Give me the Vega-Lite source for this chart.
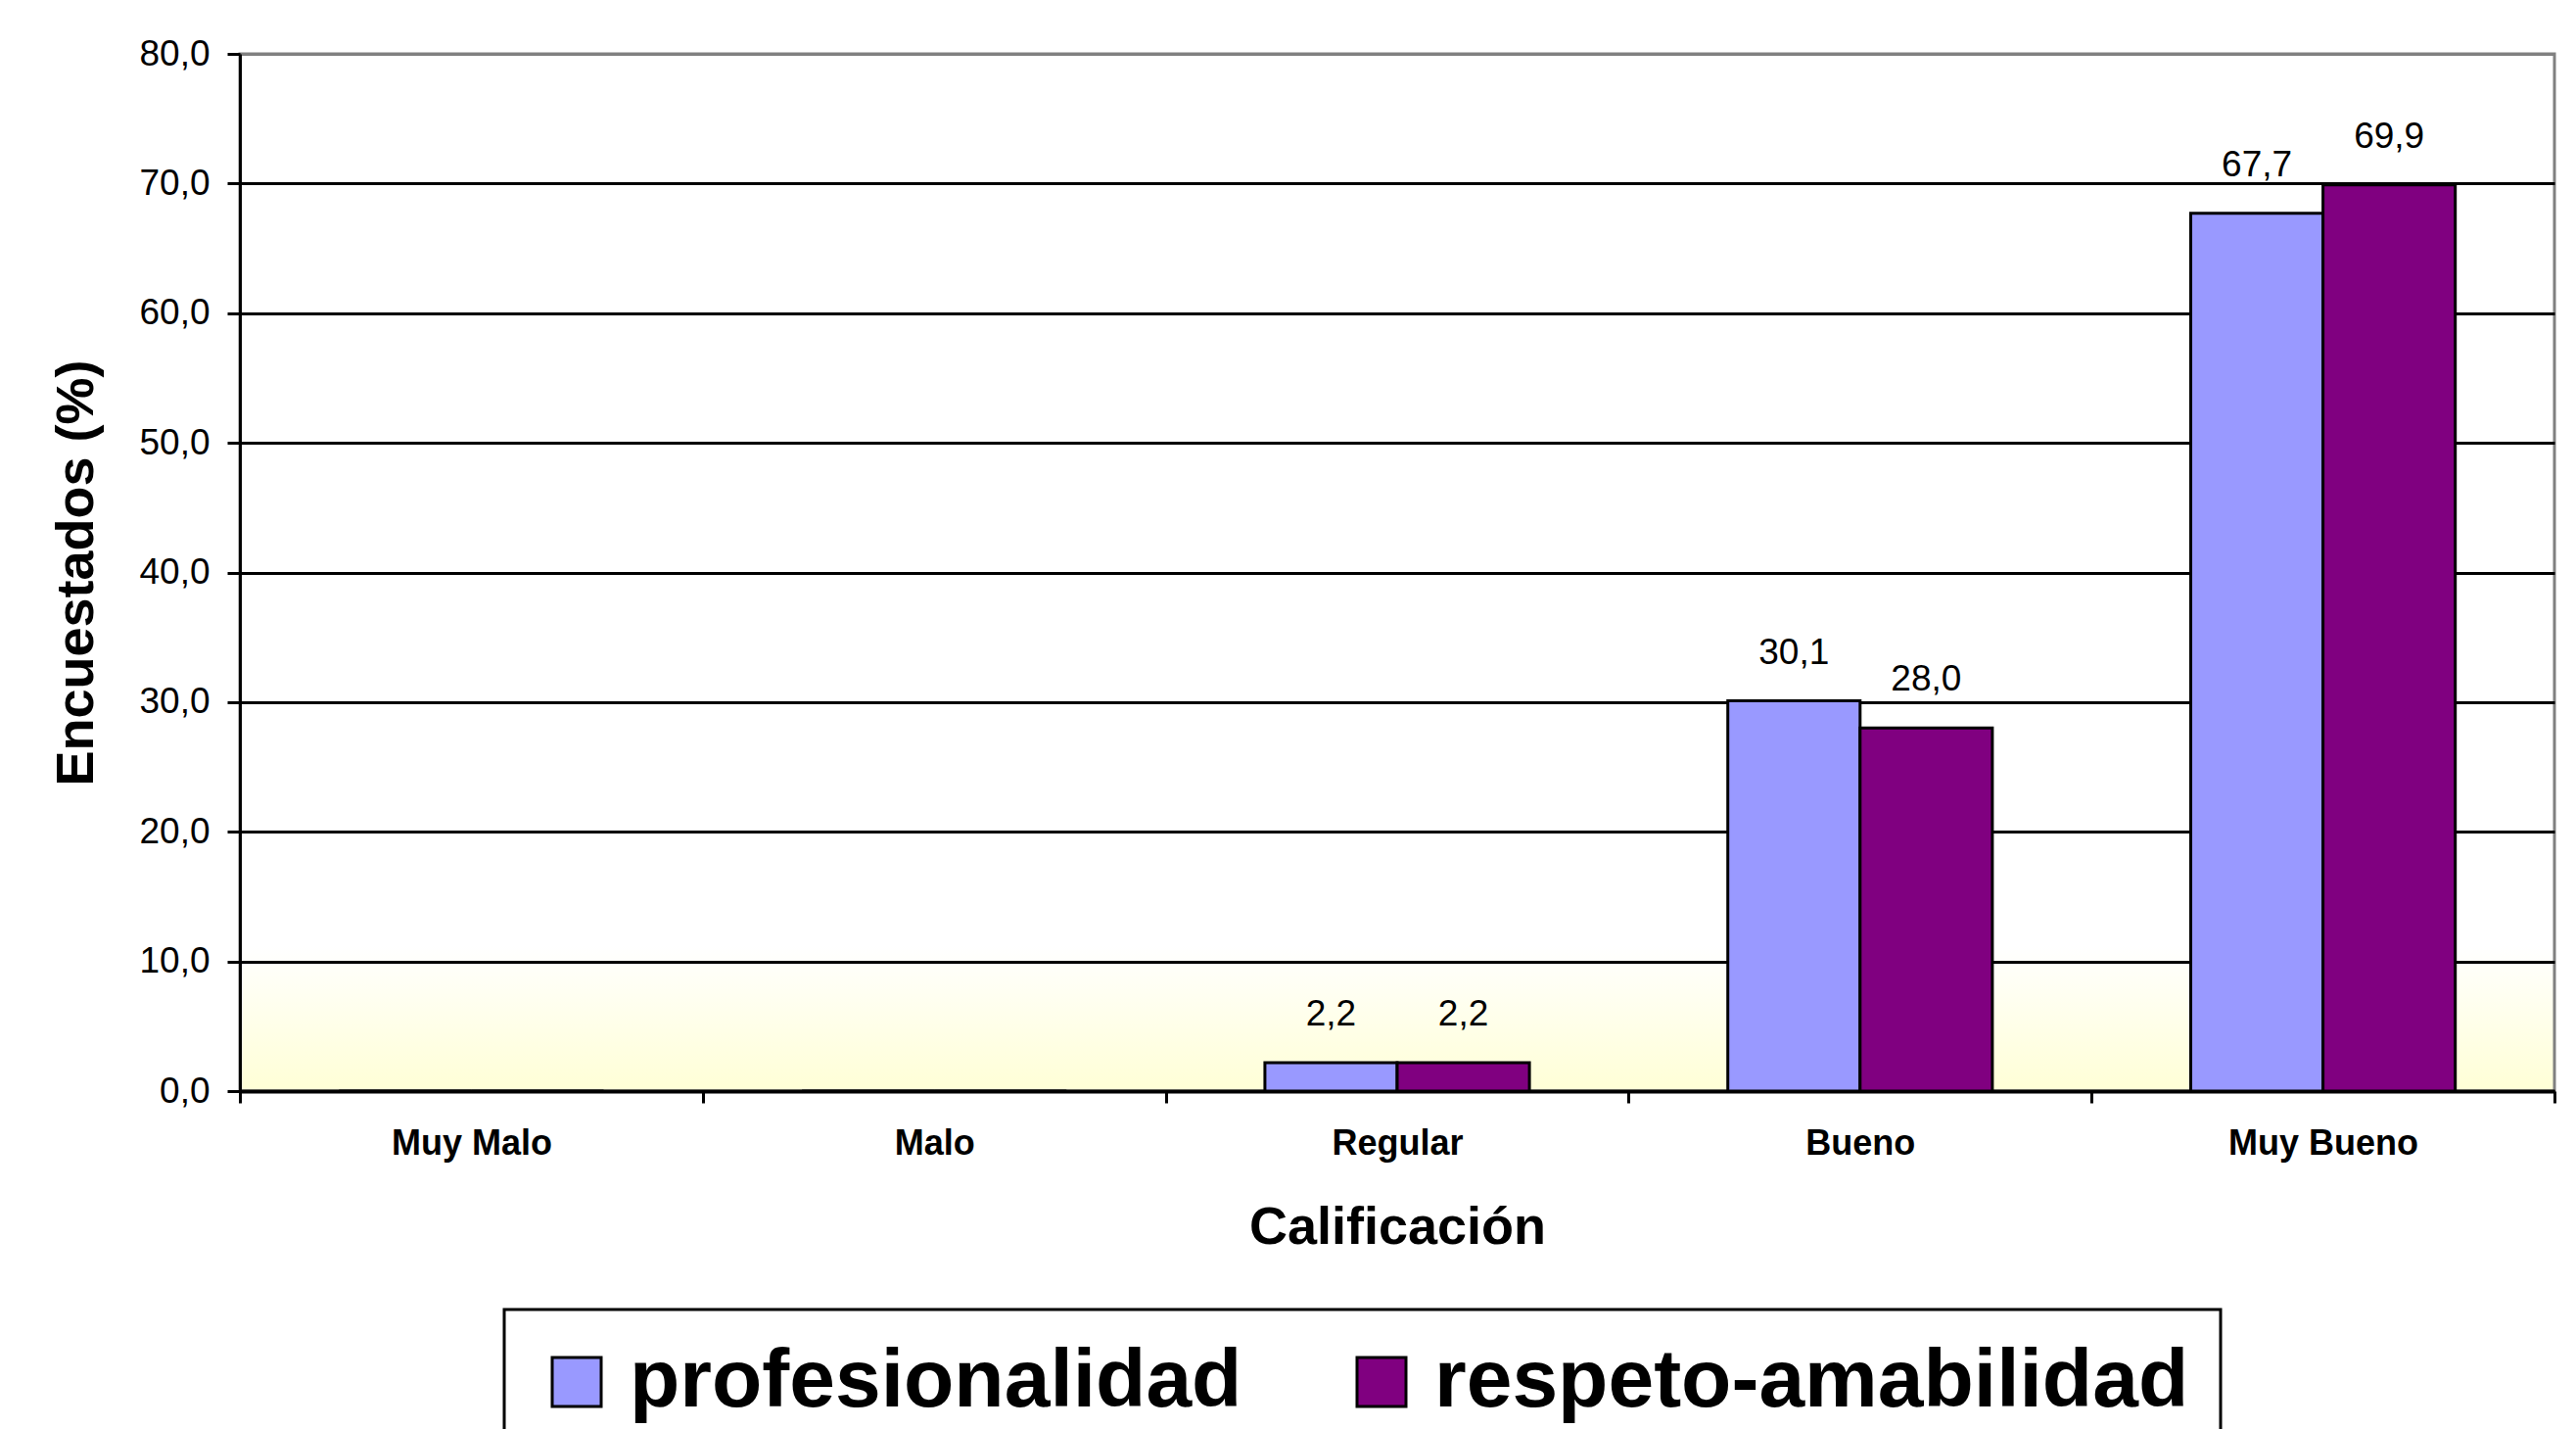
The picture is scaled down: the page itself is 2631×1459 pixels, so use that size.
{
  "$schema": "https://vega.github.io/schema/vega-lite/v6.json",
  "width": 2364,
  "height": 1059,
  "autosize": "none",
  "padding": {"left": 245, "top": 55, "right": 22, "bottom": 345},
  "background": "white",
  "config": {
    "locale": {"number": {"decimal": ",", "thousands": ".", "grouping": [3], "currency": ["", " €"]}},
    "font": "Liberation Sans",
    "legend": {"strokeWidth": 3}
  },
  "view": {
    "fill": {"gradient": "linear", "x1": 0, "y1": 0, "x2": 0, "y2": 1, "stops": [{"offset": 0, "color": "#ffffff"}, {"offset": 0.86, "color": "#ffffff"}, {"offset": 1, "color": "#ffffd6"}]},
    "stroke": "#808080",
    "strokeWidth": 3
  },
  "data": {
    "values": [
      {"calificacion": "Muy Malo", "serie": "profesionalidad", "valor": 0},
      {"calificacion": "Muy Malo", "serie": "respeto-amabilidad", "valor": 0},
      {"calificacion": "Malo", "serie": "profesionalidad", "valor": 0},
      {"calificacion": "Malo", "serie": "respeto-amabilidad", "valor": 0},
      {"calificacion": "Regular", "serie": "profesionalidad", "valor": 2.2},
      {"calificacion": "Regular", "serie": "respeto-amabilidad", "valor": 2.2},
      {"calificacion": "Bueno", "serie": "profesionalidad", "valor": 30.1},
      {"calificacion": "Bueno", "serie": "respeto-amabilidad", "valor": 28.0},
      {"calificacion": "Muy Bueno", "serie": "profesionalidad", "valor": 67.7},
      {"calificacion": "Muy Bueno", "serie": "respeto-amabilidad", "valor": 69.9}
    ]
  },
  "encoding": {
    "x": {
      "field": "calificacion",
      "type": "nominal",
      "sort": ["Muy Malo", "Malo", "Regular", "Bueno", "Muy Bueno"],
      "scale": {"paddingInner": 0, "paddingOuter": 0},
      "title": "Calificación",
      "axis": {
        "labelFontSize": 36, "labelFontWeight": "bold", "labelAngle": 0, "labelPadding": 24, "labelColor": "black", "labelLimit": 1000,
        "tickBand": "extent", "tickSize": 12, "tickWidth": 3, "tickColor": "black",
        "domainColor": "black", "domainWidth": 4, "grid": false,
        "titleFontSize": 54, "titleFontWeight": "bold", "titlePadding": 41, "titleColor": "black"
      }
    },
    "xOffset": {"field": "serie", "type": "nominal", "sort": ["profesionalidad", "respeto-amabilidad"], "scale": {"paddingInner": 0, "paddingOuter": 0.75}},
    "y": {
      "field": "valor",
      "type": "quantitative",
      "scale": {"domain": [0, 80], "nice": false},
      "title": "Encuestados (%)",
      "axis": {
        "values": [0, 10, 20, 30, 40, 50, 60, 70, 80], "format": ".1f",
        "labelFontSize": 37, "labelPadding": 18, "labelColor": "black",
        "tickSize": 13, "tickWidth": 3, "tickColor": "black",
        "domainColor": "black", "domainWidth": 3,
        "grid": true, "gridColor": {"condition": {"test": "datum.value == 80", "value": "#808080"}, "value": "black"}, "gridWidth": 3,
        "titleFontSize": 54, "titleFontWeight": "bold", "titlePadding": 36, "titleColor": "black"
      }
    }
  },
  "layer": [
    {
      "mark": {"type": "bar", "stroke": "black", "strokeWidth": 3},
      "encoding": {
        "color": {
          "field": "serie", "type": "nominal",
          "scale": {"domain": ["profesionalidad", "respeto-amabilidad"], "range": ["#9999ff", "#800080"]},
          "legend": {
            "orient": "none", "legendX": 270, "legendY": 1282, "direction": "horizontal", "title": null,
            "labelFontSize": 84, "labelFontWeight": "bold", "labelLimit": 2000, "labelColor": "black",
            "symbolType": "square", "symbolSize": 2500, "symbolStrokeColor": "black", "symbolStrokeWidth": 3, "symbolOpacity": 1,
            "labelOffset": 12, "columnPadding": 100, "padding": 32,
            "strokeColor": "black", "fillColor": "white"
          }
        }
      }
    },
    {
      "transform": [{"filter": "datum.valor > 0"}],
      "mark": {"type": "text", "baseline": "bottom", "dy": -30, "fontSize": 37, "color": "black"},
      "encoding": {"text": {"field": "valor", "type": "quantitative", "format": ".1f"}}
    }
  ]
}
